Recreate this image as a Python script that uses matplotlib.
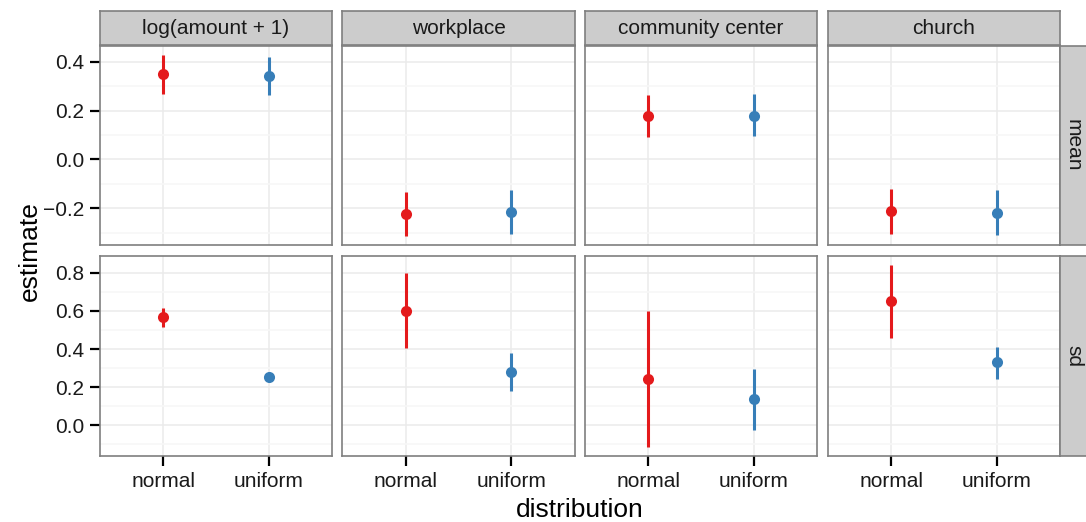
import matplotlib
matplotlib.use("Agg")
import matplotlib.pyplot as plt
from matplotlib.ticker import FixedLocator
import numpy as np

plt.rcParams["font.family"] = ["Liberation Sans", "DejaVu Sans"]

# Facets (columns), statistics (rows) and the two distributions on the x axis
facets = ["log(amount + 1)", "workplace", "community center", "church"]
stats = ["mean", "sd"]
distributions = ["normal", "uniform"]

# Posterior estimates with interval bounds, one value per facet
mean_normal_est = [0.350, -0.222, 0.178, -0.210]
mean_normal_lo = [0.269, -0.313, 0.093, -0.303]
mean_normal_hi = [0.427, -0.133, 0.263, -0.119]
mean_uniform_est = [0.340, -0.214, 0.178, -0.218]
mean_uniform_lo = [0.265, -0.303, 0.095, -0.311]
mean_uniform_hi = [0.420, -0.125, 0.266, -0.126]

sd_normal_est = [0.567, 0.600, 0.243, 0.650]
sd_normal_lo = [0.518, 0.403, -0.113, 0.460]
sd_normal_hi = [0.617, 0.798, 0.600, 0.840]
sd_uniform_est = [0.253, 0.279, 0.138, 0.331]
sd_uniform_lo = [0.245, 0.181, -0.022, 0.244]
sd_uniform_hi = [0.262, 0.379, 0.296, 0.413]

mean_ticks = [-0.2, 0.0, 0.2, 0.4]
sd_ticks = [0.0, 0.2, 0.4, 0.6, 0.8]

series = {
    "mean": {
        "normal": (mean_normal_est, mean_normal_lo, mean_normal_hi),
        "uniform": (mean_uniform_est, mean_uniform_lo, mean_uniform_hi),
    },
    "sd": {
        "normal": (sd_normal_est, sd_normal_lo, sd_normal_hi),
        "uniform": (sd_uniform_est, sd_uniform_lo, sd_uniform_hi),
    },
}
row_ticks = {"mean": mean_ticks, "sd": sd_ticks}
colors = {"normal": "#E41A1C", "uniform": "#377EB8"}

W, H = 1086, 522
fig = plt.figure(figsize=(W / 100, H / 100), dpi=100)


def px_axes(x0, y0, x1, y1, **kw):
    return fig.add_axes([x0 / W, 1 - y1 / H, (x1 - x0) / W, (y1 - y0) / H], **kw)


col_px = [(100, 332), (342, 575), (585, 817), (828, 1060)]
row_px = [(46, 245), (256, 456)]
strip_top = (11, 45)
strip_right = (1060, 1090)

border = "#7F7F7F"
strip_bg = "#CCCCCC"
tick_fs = 15
title_fs = 19


def style_strip(ax):
    ax.set_facecolor(strip_bg)
    ax.set_xticks([])
    ax.set_yticks([])
    for s in ax.spines.values():
        s.set_color(border)
        s.set_linewidth(1.2)


for r, stat in enumerate(stats):
    lo_all = min(min(series[stat][d][1]) for d in distributions)
    hi_all = max(max(series[stat][d][2]) for d in distributions)
    span = hi_all - lo_all
    ylim = (lo_all - 0.05 * span, hi_all + 0.05 * span)
    ticks = row_ticks[stat]
    step = ticks[1] - ticks[0]
    minor = [t + step / 2 for t in [ticks[0] - step] + ticks]

    for c, facet in enumerate(facets):
        x0, x1 = col_px[c]
        y0, y1 = row_px[r]
        ax = px_axes(x0, y0, x1, y1)
        ax.set_facecolor("white")
        ax.set_xlim(-0.6, 1.6)
        ax.set_ylim(*ylim)
        ax.set_axisbelow(True)
        ax.yaxis.set_major_locator(FixedLocator(ticks))
        ax.yaxis.set_minor_locator(FixedLocator(minor))
        ax.set_xticks(range(len(distributions)))
        ax.grid(which="major", color="#EBEBEB", linewidth=1.1)
        ax.grid(which="minor", axis="y", color="#F7F7F7", linewidth=1.1)
        for s in ax.spines.values():
            s.set_color(border)
            s.set_linewidth(1.2)
        ax.tick_params(which="minor", length=0)
        ax.tick_params(which="major", length=7.5, width=1.6, color="black",
                       labelsize=tick_fs, labelcolor="#1A1A1A", pad=4)

        for i, d in enumerate(distributions):
            est, lo, hi = series[stat][d]
            ax.vlines(i, lo[c], hi[c], color=colors[d], linewidth=2.2, zorder=3)
            ax.plot(i, est[c], "o", color=colors[d], markersize=8,
                    markeredgewidth=0, zorder=4)

        if c == 0:
            ax.set_yticklabels([f"{t:.1f}".replace("-", "\u2212") for t in ticks])
        else:
            ax.tick_params(axis="y", which="both", left=False, labelleft=False)
        if r == len(stats) - 1:
            ax.set_xticklabels(distributions)
        else:
            ax.tick_params(axis="x", which="both", bottom=False, labelbottom=False)

        if r == 0:
            sax = px_axes(x0, strip_top[0], x1, strip_top[1])
            style_strip(sax)
            sax.text(0.5, 0.5, facet, ha="center", va="center",
                     fontsize=tick_fs, color="#1A1A1A", transform=sax.transAxes)
        if c == len(facets) - 1:
            sax = px_axes(strip_right[0], y0, strip_right[1], y1)
            style_strip(sax)
            sax.text(0.45, 0.5, stat, ha="center", va="center", rotation=-90,
                     fontsize=tick_fs, color="#1A1A1A", transform=sax.transAxes)

fig.text(30 / W, 1 - 251 / H, "estimate", rotation=90, ha="center", va="center",
         fontsize=title_fs)
fig.text(580 / W, 1 - 510 / H, "distribution", ha="center", va="center",
         fontsize=title_fs)

fig.savefig("out.png", dpi=100, facecolor="white")
